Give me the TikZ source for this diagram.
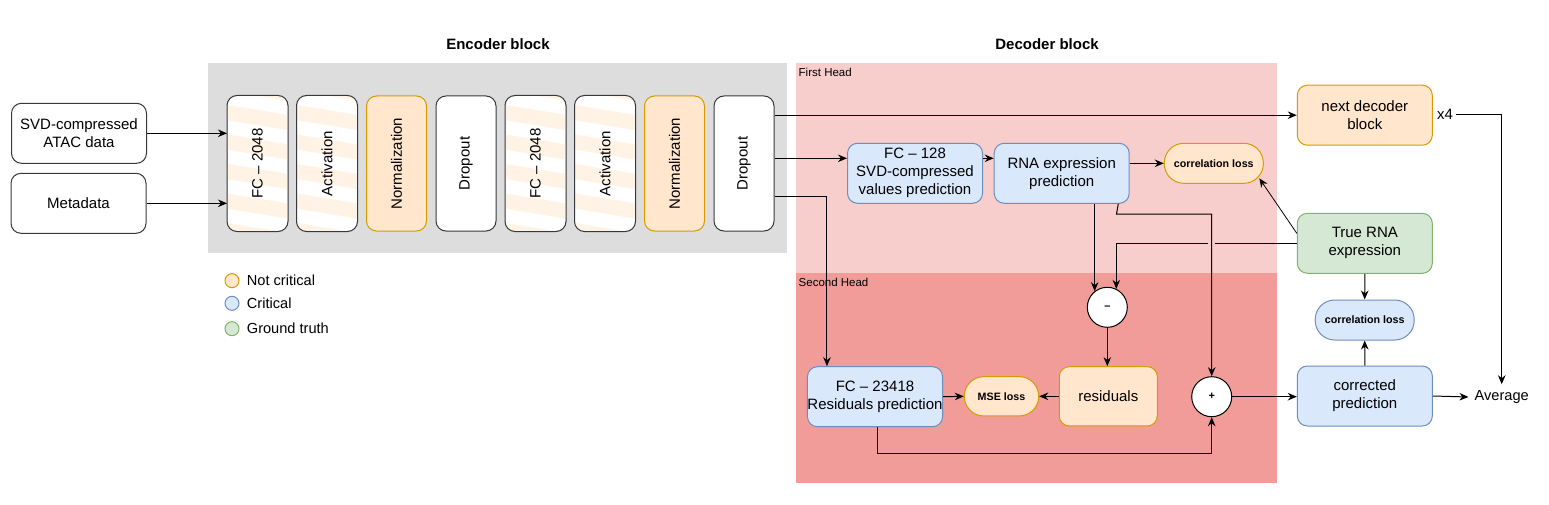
\documentclass[tikz,border=0pt]{standalone}
\usepackage{fontspec}
\setmainfont{Liberation Sans}
\usetikzlibrary{arrows.meta,calc}
\definecolor{orfill}{HTML}{FFE6CC}
\definecolor{ordraw}{HTML}{D79B00}
\definecolor{blfill}{HTML}{DAE8FC}
\definecolor{bldraw}{HTML}{6C8EBF}
\definecolor{grfill}{HTML}{D5E8D4}
\definecolor{grdraw}{HTML}{82B366}
\definecolor{encbg}{HTML}{DDDDDD}
\definecolor{headone}{HTML}{F8CECC}
\definecolor{headtwo}{HTML}{F19C99}
\definecolor{boxline}{HTML}{36393D}
\newcommand\mystripes[1]{%
  \begin{scope}
    \clip[rounded corners=10pt] (#1.north west) rectangle (#1.south east);
    \foreach \k in {-1,...,5}{
      \draw[stripeline] ($(#1.north west)+(-5,17+29.5*\k-0.83)$) --
        ($(#1.north east)+(5,27+29.5*\k+0.83)$);}
  \end{scope}
  \draw[boxline, line width=1pt, rounded corners=10pt] (#1.north west) rectangle (#1.south east);}
\begin{document}
\begin{tikzpicture}[x=1pt,y=-1pt,
  base/.style={rounded corners=10pt, line width=1pt, align=center, inner sep=0pt,
    font=\fontsize{15}{18}\selectfont},
  vbox/.style={base, draw=boxline, fill=white, minimum width=60pt, minimum height=135pt},
  vplain/.style={base, fill=white, minimum width=60pt, minimum height=135pt},
  vorange/.style={vbox, draw=ordraw, fill=orfill},
  stripeline/.style={line width=15pt, orfill!50!white},
  vtext/.style={inner sep=0pt, font=\fontsize{15}{18}\selectfont},
  wbox/.style={base, draw=boxline, fill=white, minimum width=135pt, minimum height=60pt},
  bbox/.style={base, draw=bldraw, fill=blfill, minimum width=135pt, minimum height=60pt},
  obox/.style={base, draw=ordraw, fill=orfill, minimum width=135pt, minimum height=60pt},
  gbox/.style={base, draw=grdraw, fill=grfill, minimum width=135pt, minimum height=60pt},
  pill/.style={rounded corners=19.5pt, line width=1pt, inner sep=0pt,
    minimum width=99pt, minimum height=40pt, font=\fontsize{10.7}{12}\selectfont\bfseries},
  opnode/.style={circle, draw=black, fill=white, line width=1pt, minimum size=40pt, inner sep=0pt,
    font=\fontsize{11}{12}\selectfont\bfseries},
  lgd/.style={circle, line width=1pt, minimum size=14pt, inner sep=0pt},
  lgdtext/.style={anchor=west, inner sep=0pt, font=\fontsize{14.6}{16}\selectfont},
  title/.style={font=\fontsize{15}{17}\selectfont\bfseries, inner sep=0pt},
  headlbl/.style={anchor=west, inner sep=0pt, font=\fontsize{11.5}{13}\selectfont},
  arr/.style={-{Stealth[length=9pt,width=7.5pt]}, line width=1pt},
  ln/.style={line width=1pt},
]
\useasboundingbox (0,0) rectangle (1549,505);

% backgrounds
\fill[encbg] (208,63) rectangle (787,253);
\fill[headone] (796,63.3) rectangle (1277.3,273.3);
\fill[headtwo] (796,273.3) rectangle (1277.3,483.3);

\node[title] (enct) at (498,44) {Encoder block};
\node[title] (dect) at (1047,44) {Decoder block};
\node[headlbl] (h1) at (798.5,72.7) {First Head};
\node[headlbl] (h2) at (798.5,282.7) {Second Head};

% inputs
\node[wbox] (svd) at (79,133.3) {SVD-compressed\\ATAC data};
\node[wbox] (meta) at (78.5,203.3) {Metadata};

% encoder boxes
\node[vplain] (fc1) at (257.5,163.5) {};
\node[vplain] (act1) at (327,163.5) {};
\node[vorange] (norm1) at (396.5,163.5) {\rotatebox{90}{Normalization}};
\node[vbox] (drop1) at (466,163.5) {\rotatebox{90}{Dropout}};
\node[vplain] (fc2) at (535.5,163.5) {};
\node[vplain] (act2) at (605,163.5) {};
\node[vorange] (norm2) at (674.5,163.5) {\rotatebox{90}{Normalization}};
\node[vbox] (drop2) at (744,163.5) {\rotatebox{90}{Dropout}};
\mystripes{fc1}
\mystripes{act1}
\mystripes{fc2}
\mystripes{act2}
\node[vtext] (fc1t) at (fc1) {\rotatebox{90}{FC – 2048}};
\node[vtext] (act1t) at (act1) {\rotatebox{90}{Activation}};
\node[vtext] (fc2t) at (fc2) {\rotatebox{90}{FC – 2048}};
\node[vtext] (act2t) at (act2) {\rotatebox{90}{Activation}};

\draw[arr] (svd.east) -- (svd.east -| fc1.west);
\draw[arr] (meta.east) -- (meta.east -| fc1.west);

% legend
\node[lgd, draw=ordraw, fill=orfill] (l1) at (232,280.7) {};
\node[lgd, draw=bldraw, fill=blfill] (l2) at (232,303.3) {};
\node[lgd, draw=grdraw, fill=grfill] (l3) at (232,328.7) {};
\node[lgdtext] (t1) at (246.7,280.7) {Not critical};
\node[lgdtext] (t2) at (246.7,303.3) {Critical};
\node[lgdtext] (t3) at (246.7,328.7) {Ground truth};

% decoder
\node[bbox] (fc128) at (915,173.3) {FC – 128\\SVD-compressed\\values prediction};
\node[bbox] (rnapred) at (1061.7,173.3) {RNA expression\\prediction};
\node[pill, draw=ordraw, fill=orfill] (corr1) at (1213.8,163.3) {correlation loss};
\node[obox] (next) at (1364.8,115.2) {next decoder\\block};
\node[inner sep=3pt, font=\fontsize{15}{17}\selectfont] (x4) at (1445,114.3) {x4};
\node[gbox] (truerna) at (1364.8,243.3) {True RNA\\expression};
\node[pill, draw=bldraw, fill=blfill] (corr2) at (1364.7,320) {correlation loss};
\node[bbox] (corrected) at (1364.8,396) {corrected\\prediction};
\node[inner sep=6pt, font=\fontsize{14.6}{16}\selectfont] (avg) at (1501.7,397) {Average};

\node[opnode] (minus) at (1107.3,307.3) {–};
\node[obox, minimum width=98pt, minimum height=59.3pt] (resid) at (1108.3,396.3) {residuals};
\node[pill, draw=ordraw, fill=orfill, minimum width=74.4pt, minimum height=39.3pt] (mse) at (1001.5,396.3) {MSE loss};
\node[bbox] (fc23418) at (875,396.7) {FC – 23418\\Residuals prediction};
\node[opnode] (plus) at (1211.7,396.7) {+};

% connectors
\coordinate (fcin) at ([yshift=15pt]fc128.west);
\coordinate (fcout) at ([yshift=15pt]fc128.east);
\coordinate (rnain) at ([yshift=15pt]rnapred.west);
\coordinate (rnaout) at ([yshift=10pt]rnapred.east);
\coordinate (d3) at ([xshift=20pt]fc23418.north west);
\coordinate (dropc) at ([yshift=-33.2pt]drop2.east);
\draw[arr] (drop2.east |- next.west) -- (next.west);
\draw[arr] (drop2.east |- fcin) -- (fcin);
\draw[arr] (fcout) -- (rnain);
\draw[arr] (rnaout) -- (corr1.west);
\draw[arr] (dropc) -| (d3);

\coordinate (gapr) at ([xshift=3.5pt]truerna.west -| plus.north);
\coordinate (gapl) at ([xshift=-3.5pt]truerna.west -| plus.north);
\draw[arr] (rnapred.south -| minus.128) -- (minus.128);
\draw[ln] (truerna.west) -- (gapr);
\draw[arr] (gapl) -| (minus.64);
\coordinate (k0) at ([xshift=56.6pt]rnapred.south);
\coordinate (k1) at (1116.5,214);
\draw[arr] (k0) -- (k1) -| (plus.north);
\draw[arr] (minus.south) -- (minus.south |- resid.north);
\draw[arr] (resid.west) -- (mse.east);
\draw[arr] (fc23418.east) -- (mse.west);
\coordinate (low) at (0,453.3);
\coordinate (fcbot) at ([xshift=2.3pt]fc23418.south);
\draw[arr] (fcbot) -- (fcbot |- low) -| (plus.south);
\draw[arr] (plus.east) -- (plus.east -| corrected.west);
\coordinate (trueup) at ([yshift=10pt]truerna.west);
\coordinate (corrhit) at ($(corr1.east)+(-4.5,15)$);
\draw[arr, line width=0.8pt] (trueup) -- (corrhit);
\draw[arr] (truerna.south) -- (corr2.north);
\draw[arr] (corrected.north) -- (corr2.south);
\draw[arr] (corrected.east) -- (avg.west);
\draw[arr] (x4.east) -| (avg.north);
\end{tikzpicture}
\end{document}
